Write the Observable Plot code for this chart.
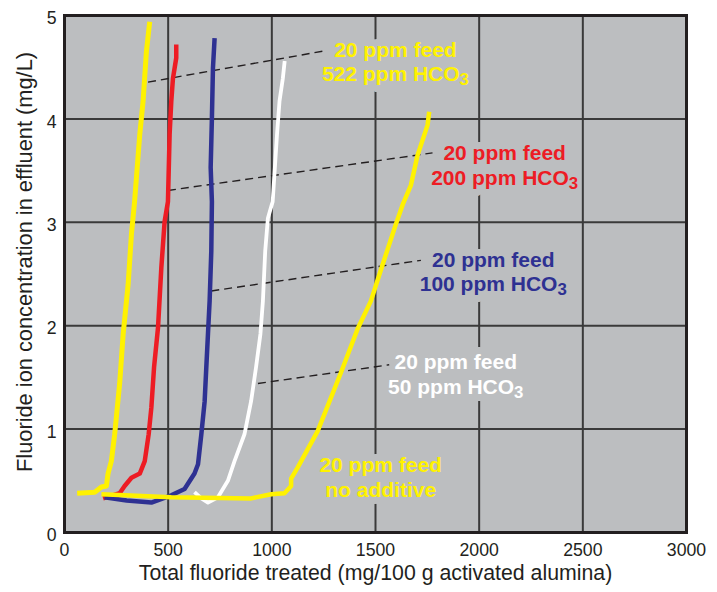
<!DOCTYPE html>
<html>
<head>
<meta charset="utf-8">
<script src="https://cdn.jsdelivr.net/npm/d3@7"></script>
<script src="https://cdn.jsdelivr.net/npm/@observablehq/plot@0.6"></script>
<style>
  html, body { margin: 0; padding: 0; background: #ffffff; }
  #chart { width: 717px; height: 592px; }
</style>
</head>
<body>
<div id="chart"></div>
<script>
// ---- data ----
const xTicks = [0, 500, 1000, 1500, 2000, 2500, 3000];
const yTicks = [0, 1, 2, 3, 4, 5];
const xGrid = [500, 1000, 1500, 2000, 2500];
const yGrid = [1, 2, 3, 4];

const yellow522X = [61, 146, 178, 202, 210, 226, 242, 266, 283, 307, 323, 338, 363, 379, 395, 411];
const yellow522Y = [0.38, 0.39, 0.44, 0.45, 0.57, 0.69, 0.95, 1.44, 1.92, 2.40, 2.89, 3.20, 3.85, 4.17, 4.65, 4.94];

const red200X = [186, 266, 290, 323, 363, 387, 406, 419, 432, 451, 467, 483, 499, 507, 515, 523, 539, 539];
const red200Y = [0.33, 0.38, 0.45, 0.53, 0.57, 0.69, 0.95, 1.21, 1.60, 1.98, 2.56, 3.01, 3.20, 3.85, 4.17, 4.39, 4.59, 4.72];

const blue100X = [193, 300, 419, 515, 579, 627, 644, 660, 676, 684, 692, 700, 708, 711, 705, 711, 716, 724];
const blue100Y = [0.34, 0.31, 0.29, 0.36, 0.42, 0.57, 0.66, 0.95, 1.27, 1.60, 1.92, 2.24, 2.72, 3.20, 3.53, 4.01, 4.49, 4.78];

const white50X = [627, 660, 692, 740, 788, 820, 868, 900, 924, 945, 957, 968, 981, 1004, 1025, 1037, 1053, 1062];
const white50Y = [0.39, 0.33, 0.29, 0.34, 0.50, 0.69, 0.95, 1.27, 1.60, 1.92, 2.24, 2.72, 3.04, 3.20, 3.85, 4.17, 4.39, 4.56];

const noAddX = [178, 515, 900, 997, 1061, 1093, 1093, 1125, 1221, 1334, 1414, 1478, 1534, 1598, 1631, 1671, 1703, 1751, 1759];
const noAddY = [0.37, 0.34, 0.33, 0.37, 0.38, 0.45, 0.52, 0.63, 0.98, 1.55, 1.97, 2.24, 2.59, 2.98, 3.17, 3.36, 3.65, 3.94, 4.07];

const seriesNames = ["522", "200", "100", "50", "none"];
const seriesColors = ["#fff200", "#ed1c24", "#2e3192", "#ffffff", "#fff200"];
const seriesWidths = [5, 4.5, 4.5, 3.8, 4.5];

const labelText = [
  "20 ppm feed\n522 ppm HCO3",
  "20 ppm feed\n200 ppm HCO3",
  "20 ppm feed\n100 ppm HCO3",
  "20 ppm feed\n50 ppm HCO3",
  "20 ppm feed\nno additive"
];
const labelX = [1596, 2123, 2068, 1887, 1525];
const labelY = [4.54, 3.536, 2.51, 1.515, 0.521];

const leaderX1 = [403, 499, 708, 933];
const leaderY1 = [4.356, 3.308, 2.336, 1.441];
const leaderX2 = [1261, 1775, 1719, 1566];
const leaderY2 = [4.66, 3.671, 2.632, 1.622];

const xTitle = "Total fluoride treated (mg/100 g activated alumina)";
const yTitle = "Fluoride ion concentration in effluent (mg/L)";

// ---- build tables ----
const seriesX = [yellow522X, red200X, blue100X, white50X, noAddX];
const seriesY = [yellow522Y, red200Y, blue100Y, white50Y, noAddY];
const lineMarks = seriesNames.map((name, i) =>
  Plot.line(seriesX[i].map((x, j) => ({x, y: seriesY[i][j]})), {
    x: "x", y: "y", stroke: seriesColors[i], strokeWidth: seriesWidths[i],
    strokeLinejoin: "round", strokeLinecap: "butt"
  })
);
const labels = labelText.map((t, i) => ({t, x: labelX[i], y: labelY[i], c: seriesColors[i]}));
const leaders = leaderX1.map((x1, i) => ({x1, y1: leaderY1[i], x2: leaderX2[i], y2: leaderY2[i]}));

const BG = "#bcbec0";
const INK = "#231f20";
const FONT = "'Liberation Sans', Arial, Helvetica, sans-serif";

const chart = Plot.plot({
  width: 717,
  height: 592,
  marginLeft: 64,
  marginRight: 31,
  marginTop: 15,
  marginBottom: 60,
  style: {background: "#ffffff", fontFamily: FONT, fontSize: "17.7px", color: INK},
  x: {domain: [0, 3000]},
  y: {domain: [0, 5]},
  marks: [
    Plot.frame({fill: BG}),
    Plot.ruleX(xGrid, {stroke: "#3a3a3a", strokeWidth: 2}),
    Plot.ruleY(yGrid, {stroke: "#3a3a3a", strokeWidth: 2}),
    Plot.text(labels, {
      x: "x", y: "y", text: "t", fill: "c", fontWeight: "bold", fontSize: 21,
      lineHeight: 1.17, lineAnchor: "middle", textAnchor: "middle", dy: -2,
      stroke: BG, strokeWidth: 14, strokeLinejoin: "round"
    }),
    Plot.link(leaders, {
      x1: "x1", y1: "y1", x2: "x2", y2: "y2", stroke: INK, strokeWidth: 1.4,
      strokeDasharray: "8,5"
    }),
    ...lineMarks,
    Plot.frame({stroke: INK, strokeWidth: 3}),
    Plot.axisX(xTicks, {tickSize: 0, tickPadding: 11, tickFormat: d => String(d), label: null, fontSize: 17.7, fill: INK}),
    Plot.axisY(yTicks, {tickSize: 0, tickPadding: 8, tickFormat: d => String(d), label: null, fontSize: 17.7, dy: 3, fill: INK}),
    Plot.text([xTitle], {frameAnchor: "bottom", dy: 47, fontSize: 21.3, fill: INK, text: d => d}),
    Plot.text([yTitle], {frameAnchor: "left", textAnchor: "middle", dx: -39, dy: -12, rotate: -90, fontSize: 21.8, fill: INK, text: d => d})
  ]
});

// subscript for HCO3
d3.select(chart).selectAll("tspan").each(function() {
  const t = this.textContent;
  if (t.endsWith("HCO3")) {
    this.textContent = t.slice(0, -1);
    d3.select(this).append("tspan")
      .attr("dy", "0.22em")
      .attr("font-size", "80%")
      .attr("stroke", "none")
      .text("3");
  }
});

document.getElementById("chart").appendChild(chart);
</script>
</body>
</html>
